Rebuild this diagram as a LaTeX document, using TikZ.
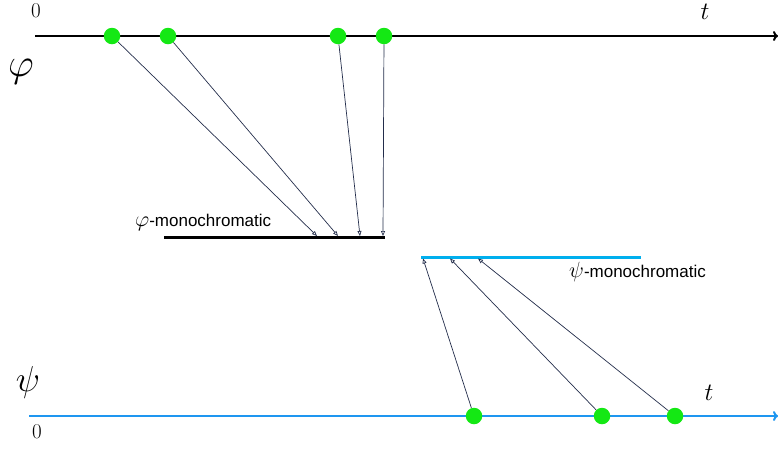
\RequirePackage{fix-cm}
\documentclass[tikz,border=0pt]{standalone}
\usepackage{fontspec}
\setsansfont{Liberation Sans}
\usetikzlibrary{arrows.meta}
\definecolor{dotgreen}{RGB}{20,232,20}
\definecolor{axisblue}{RGB}{30,150,240}
\definecolor{monoblue}{RGB}{0,175,238}
\definecolor{linknavy}{RGB}{35,45,75}
\begin{document}
\begin{tikzpicture}[x=1pt,y=-1pt,
  dotnode/.style={circle,fill=dotgreen,inner sep=0pt,minimum size=16.5pt},
  axisline/.style={line width=2pt,-{To[length=5pt,width=10pt]}},
  link/.style={draw=linknavy,line width=0.7pt,-{Triangle[open,length=5pt,width=4pt]}},
  lbl/.style={inner sep=0pt,anchor=center},
  monolbl/.style={inner sep=0pt,anchor=west,font=\sffamily\fontsize{17}{17}\selectfont}
]
\useasboundingbox (0,0) rectangle (778,451);
% axes
\coordinate (a1s) at (35,36);
\coordinate (a1e) at (778,36);
\coordinate (a2s) at (29,416);
\coordinate (a2e) at (778,416);
\draw[axisline,black] (a1s) -- (a1e);
\draw[axisline,axisblue] (a2s) -- (a2e);
% monochromatic segments
\coordinate (m1s) at (164,237.5);
\coordinate (m1e) at (385,237.5);
\coordinate (m2s) at (421,257);
\coordinate (m2e) at (641,257);
\draw[line width=3.5pt,black] (m1s) -- (m1e);
\draw[line width=3pt,monoblue] (m2s) -- (m2e);
% targets
\coordinate (e1) at (317,236);
\coordinate (e2) at (338,236);
\coordinate (e3) at (360,236);
\coordinate (e4) at (383,236);
\coordinate (f1) at (423,258.5);
\coordinate (f2) at (450,258.5);
\coordinate (f3) at (478,258.5);
% dots
\node[dotnode] (d1) at (112,36) {};
\node[dotnode] (d2) at (168,36) {};
\node[dotnode] (d3) at (338,36) {};
\node[dotnode] (d4) at (384,36) {};
\node[dotnode] (g1) at (474,416) {};
\node[dotnode] (g2) at (602,416) {};
\node[dotnode] (g3) at (675,416) {};
% links
\draw[link] (d1) -- (e1);
\draw[link] (d2) -- (e2);
\draw[link] (d3) -- (e3);
\draw[link] (d4) -- (e4);
\draw[link] (g1) -- (f1);
\draw[link] (g2) -- (f2);
\draw[link] (g3) -- (f3);
% labels
\node[lbl,font=\rmfamily\fontsize{21}{21}\selectfont] (z1) at (36,10.5) {0};
\node[lbl,font=\rmfamily\fontsize{21}{21}\selectfont] (z2) at (37,432) {0};
\node[lbl,font=\fontsize{25}{25}\selectfont] (t1) at (705,12) {$t$};
\node[lbl,font=\fontsize{25}{25}\selectfont] (t2) at (709,393) {$t$};
\node[lbl,font=\fontsize{40}{40}\selectfont] (phi) at (21,72) {$\varphi$};
\node[lbl,font=\fontsize{36}{36}\selectfont] (psi) at (28,382) {$\psi$};
\node[monolbl] (lphi) at (135,222) {{\fontsize{22}{22}\selectfont$\varphi$}-monochromatic};
\node[monolbl] (lpsi) at (569,272) {{\fontsize{22}{22}\selectfont$\psi$}-monochromatic};
\end{tikzpicture}
\end{document}
